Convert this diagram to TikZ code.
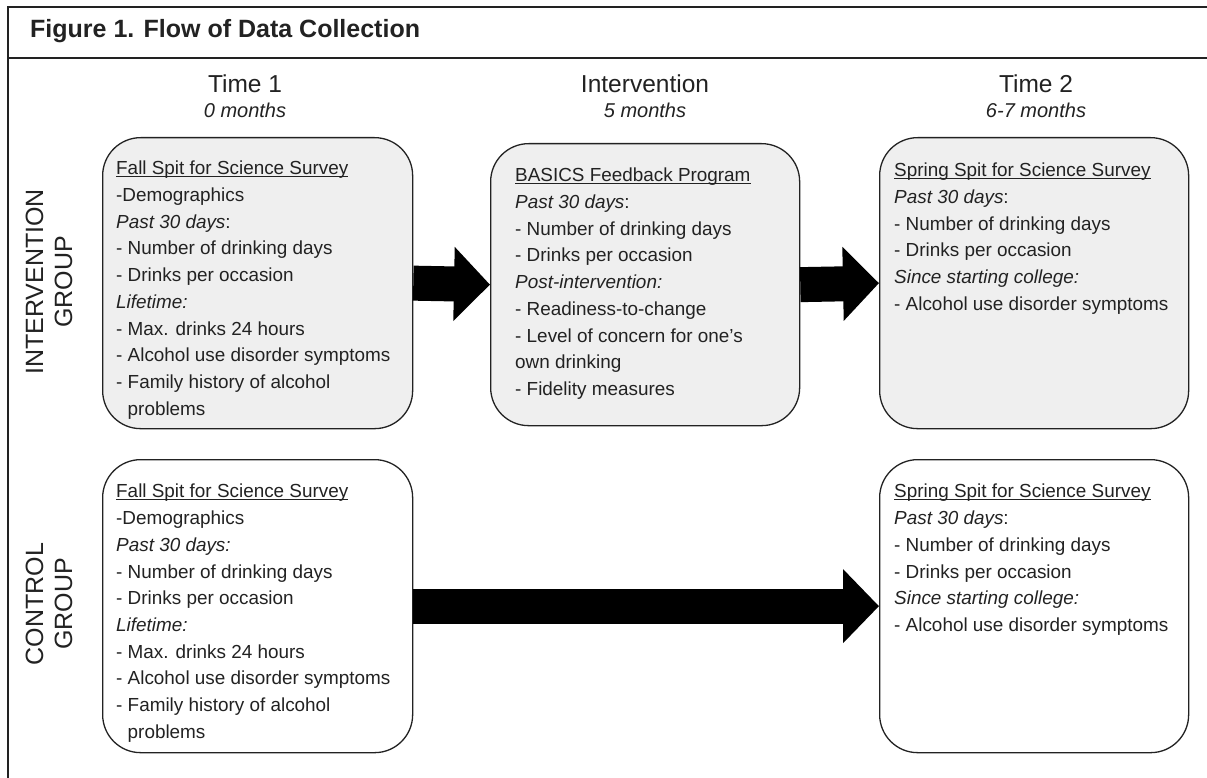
\documentclass[tikz,border=0pt]{standalone}
\usepackage{fontspec}
\setmainfont{Liberation Sans}
\usetikzlibrary{arrows.meta}
\definecolor{ink}{HTML}{222222}
\definecolor{boxgray}{HTML}{EFEFEF}
\newcommand{\myunderln}[1]{\setbox0\hbox{#1}\rlap{\rule[-2.4pt]{\wd0}{0.9pt}}\box0}
\tikzset{
  x=1pt, y=-1pt,
  frameline/.style={draw=ink, line width=1.4pt},
  stage/.style={draw=ink, line width=1.3pt, rounded corners=38pt, inner sep=0pt},
  grayfill/.style={fill=boxgray},
  whitefill/.style={fill=white},
  boxtext/.style={anchor=north west, align=left, inner sep=0pt, text=ink, font=\fontsize{18.9}{26.7}\selectfont},
  colhead/.style={anchor=base, inner sep=0pt, text=ink, font=\fontsize{24.5}{28}\selectfont},
  colsub/.style={anchor=base, inner sep=0pt, text=ink, font=\fontsize{20}{24}\selectfont\itshape},
  grouplabel/.style={rotate=90, align=center, inner sep=0pt, text=ink, font=\fontsize{25}{29}\selectfont},
  blockarrow/.style={line width=35pt, draw=black, -{Triangle[length=36pt,width=72pt]}},
}
\begin{document}
\begin{tikzpicture}
\useasboundingbox (0,0) rectangle (1207,778);
\fill[white] (0,0) rectangle (1207,778);
% frame
\draw[frameline] (1207,7) -- (8,7) -- (8,778);
\draw[frameline] (8,58) -- (1207,58);
\node[anchor=base west, inner sep=0pt, text=ink, font=\fontsize{25}{28}\selectfont\bfseries] (title) at (30,38) {Figure 1. Flow of Data Collection};
% column headers
\node[colhead] (h1) at (245,93) {Time 1};
\node[colsub] (s1) at (245,118) {0 months};
\node[colhead] (h2) at (645,93) {Intervention};
\node[colsub] (s2) at (645,118) {5 months};
\node[colhead] (h3) at (1036,93) {Time 2};
\node[colsub] (s3) at (1036,118) {6-7 months};
% group labels
\node[grouplabel] (gi) at (49,282) {INTERVENTION\\GROUP};
\node[grouplabel] (gc) at (49,604) {CONTROL\\GROUP};
% boxes
\node[stage, grayfill, minimum width=310pt, minimum height=291pt, anchor=north west] (i1) at (102,137) {};
\node[stage, grayfill, minimum width=309pt, minimum height=282pt, anchor=north west] (i2) at (490,143) {};
\node[stage, grayfill, minimum width=309pt, minimum height=291pt, anchor=north west] (i3) at (879,137) {};
\node[stage, whitefill, minimum width=310pt, minimum height=293pt, anchor=north west] (c1) at (102,459) {};
\node[stage, whitefill, minimum width=309pt, minimum height=293pt, anchor=north west] (c3) at (879,459) {};
% arrows
\draw[blockarrow] (i1.east) -- (i2.west);
\draw[blockarrow] (i2.east) -- (i3.west);
\draw[blockarrow] (c1.east) -- (c3.west);
% texts
\node[boxtext] (i1t) at ([xshift=14pt,yshift=-24pt]i1.north west) {\myunderln{Fall Spit for Science Survey}\\-Demographics\\\textit{Past 30 days}:\\- Number of drinking days\\- Drinks per occasion\\\textit{Lifetime:}\\- Max. drinks 24 hours\\- Alcohol use disorder symptoms\\- Family history of alcohol\\\hspace*{11.5pt}problems};
\node[boxtext] (i2t) at ([xshift=25pt,yshift=-25pt]i2.north west) {\myunderln{BASICS Feedback Program}\\\textit{Past 30 days}:\\- Number of drinking days\\- Drinks per occasion\\\textit{Post-intervention:}\\- Readiness-to-change\\- Level of concern for one’s\\own drinking\\- Fidelity measures};
\node[boxtext] (i3t) at ([xshift=15pt,yshift=-26pt]i3.north west) {\myunderln{Spring Spit for Science Survey}\\\textit{Past 30 days}:\\- Number of drinking days\\- Drinks per occasion\\\textit{Since starting college:}\\- Alcohol use disorder symptoms};
\node[boxtext] (c1t) at ([xshift=14pt,yshift=-25pt]c1.north west) {\myunderln{Fall Spit for Science Survey}\\-Demographics\\\textit{Past 30 days:}\\- Number of drinking days\\- Drinks per occasion\\\textit{Lifetime:}\\- Max. drinks 24 hours\\- Alcohol use disorder symptoms\\- Family history of alcohol\\\hspace*{11.5pt}problems};
\node[boxtext] (c3t) at ([xshift=15pt,yshift=-25pt]c3.north west) {\myunderln{Spring Spit for Science Survey}\\\textit{Past 30 days}:\\- Number of drinking days\\- Drinks per occasion\\\textit{Since starting college:}\\- Alcohol use disorder symptoms};
\end{tikzpicture}
\end{document}
